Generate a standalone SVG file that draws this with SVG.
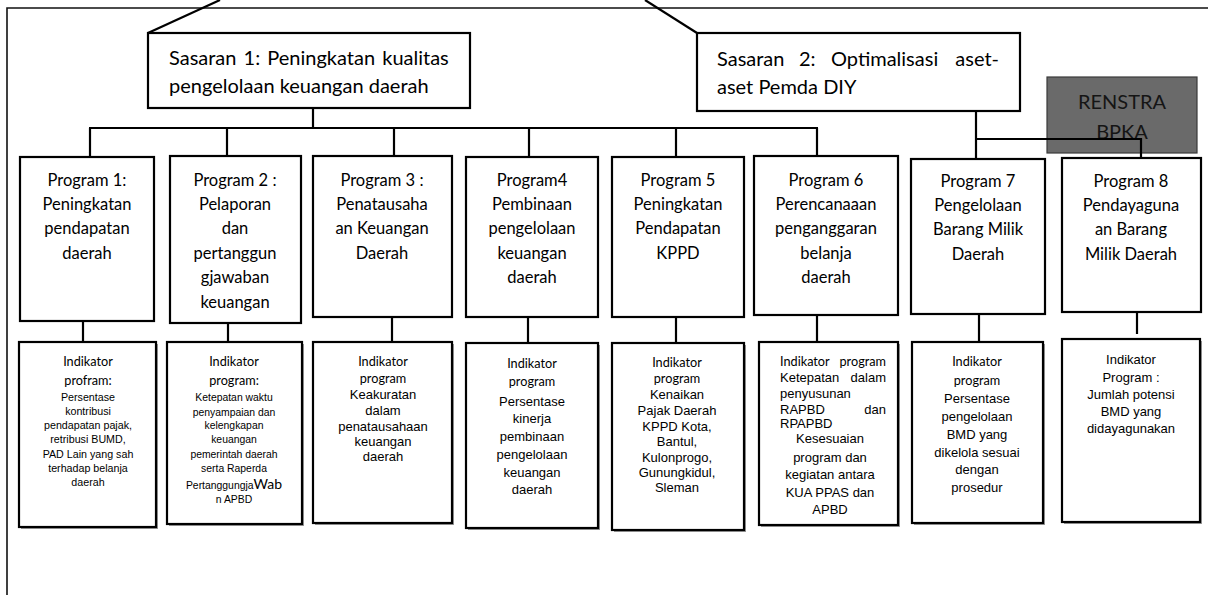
<svg xmlns="http://www.w3.org/2000/svg" width="1208" height="595" viewBox="0 0 1208 595">
<style>
.bg{fill:#fff}
.box{fill:#fff;stroke:#000;stroke-width:2.2}
.shadow{fill:#9a9a9a}
.frame{fill:none;stroke:#111;stroke-width:1.6}
.con{fill:none;stroke:#000;stroke-width:2.2}
.cal{font-family:Lato,"Liberation Sans",sans-serif;fill:#000}
.big{font-size:20px}
.prog{font-size:16.5px;text-anchor:middle}
.ind{font-size:12.7px}
.ari{font-family:"Liberation Sans",Arial,sans-serif;fill:#000}
.s11{font-size:10.7px}
.s13{font-size:13px}
.mid{text-anchor:middle}
.end{text-anchor:end}
.ren{fill:#6a6a6a;stroke:#3a3a3a;stroke-width:1.2}
</style>
<rect class="bg" x="0" y="0" width="1208" height="595"/>
<g id="frame">
<polyline class="frame" points="1208,8 7,8 7,595"/>
<line class="con" x1="220" y1="0" x2="148" y2="33"/>
<line class="con" x1="645" y1="0" x2="697" y2="33"/>
</g>

<g id="sasaran1">
<rect class="box" x="148" y="33" width="322" height="75"/>
<text class="cal big" x="169" y="65" word-spacing="2">Sasaran 1: Peningkatan kualitas</text>
<text class="cal big" x="169" y="93">pengelolaan keuangan daerah</text>
</g>

<g id="sasaran2">
<rect class="box" x="697" y="33" width="323" height="78"/>
<text class="cal big" x="717" y="66">Sasaran</text>
<text class="cal big" x="799" y="66">2:</text>
<text class="cal big" x="831" y="66">Optimalisasi</text>
<text class="cal big end" x="999" y="66">aset-</text>
<text class="cal big" x="717" y="94">aset Pemda DIY</text>
</g>

<g id="renstra">
<rect class="ren" x="1047" y="77" width="150" height="76"/>
<text class="cal big mid" x="1122" y="109" style="fill:#151515">RENSTRA</text>
<text class="cal big mid" x="1122" y="139" style="fill:#151515">BPKA</text>
</g>

<g id="program1">
<rect class="box" x="20" y="157" width="134" height="164"/>
<text class="cal prog" x="87" y="186">Program 1:</text>
<text class="cal prog" x="87" y="210">Peningkatan</text>
<text class="cal prog" x="87" y="234">pendapatan</text>
<text class="cal prog" x="87" y="259">daerah</text>
</g>
<g id="program2">
<rect class="box" x="170" y="156" width="131" height="167"/>
<text class="cal prog" x="235" y="186">Program 2 :</text>
<text class="cal prog" x="235" y="210">Pelaporan</text>
<text class="cal prog" x="235" y="234">dan</text>
<text class="cal prog" x="235" y="259">pertanggun</text>
<text class="cal prog" x="235" y="283">gjawaban</text>
<text class="cal prog" x="235" y="308">keuangan</text>
</g>
<g id="program3">
<rect class="box" x="313" y="156" width="139" height="161"/>
<text class="cal prog" x="382" y="186">Program 3 :</text>
<text class="cal prog" x="382" y="210">Penatausaha</text>
<text class="cal prog" x="382" y="234">an Keuangan</text>
<text class="cal prog" x="382" y="259">Daerah</text>
</g>
<g id="program4">
<rect class="box" x="466" y="157" width="132" height="160"/>
<text class="cal prog" x="532" y="186">Program4</text>
<text class="cal prog" x="532" y="210">Pembinaan</text>
<text class="cal prog" x="532" y="234">pengelolaan</text>
<text class="cal prog" x="532" y="259">keuangan</text>
<text class="cal prog" x="532" y="283">daerah</text>
</g>
<g id="program5">
<rect class="box" x="612" y="157" width="132" height="160"/>
<text class="cal prog" x="678" y="186">Program 5</text>
<text class="cal prog" x="678" y="210">Peningkatan</text>
<text class="cal prog" x="678" y="234">Pendapatan</text>
<text class="cal prog" x="678" y="259">KPPD</text>
</g>
<g id="program6">
<rect class="box" x="754" y="156" width="144" height="159"/>
<text class="cal prog" x="826" y="186">Program 6</text>
<text class="cal prog" x="826" y="210">Perencanaaan</text>
<text class="cal prog" x="826" y="234">penganggaran</text>
<text class="cal prog" x="826" y="259">belanja</text>
<text class="cal prog" x="826" y="283">daerah</text>
</g>
<g id="program7">
<rect class="box" x="911" y="159" width="134" height="155"/>
<text class="cal prog" x="978" y="187">Program 7</text>
<text class="cal prog" x="978" y="211">Pengelolaan</text>
<text class="cal prog" x="978" y="235">Barang Milik</text>
<text class="cal prog" x="978" y="260">Daerah</text>
</g>
<g id="program8">
<rect class="box" x="1062" y="158" width="139" height="154"/>
<text class="cal prog" x="1131" y="187">Program 8</text>
<text class="cal prog" x="1131" y="211">Pendayaguna</text>
<text class="cal prog" x="1131" y="235">an Barang</text>
<text class="cal prog" x="1131" y="260">Milik Daerah</text>
</g>

<g id="indikator1">
<rect class="shadow" x="21" y="344" width="137" height="185"/>
<rect class="box" x="19" y="342" width="137" height="185"/>
<text class="cal ind mid" x="88" y="366">Indikator</text>
<text class="cal ind mid" x="88" y="385">profram:</text>
<text class="ari s11 mid" x="88" y="401">Persentase</text>
<text class="ari s11 mid" x="88" y="415">kontribusi</text>
<text class="ari s11 mid" x="88" y="429">pendapatan pajak,</text>
<text class="ari s11 mid" x="88" y="443">retribusi BUMD,</text>
<text class="ari s11 mid" x="88" y="458">PAD Lain yang sah</text>
<text class="ari s11 mid" x="88" y="472">terhadap belanja</text>
<text class="ari s11 mid" x="88" y="486">daerah</text>
</g>
<g id="indikator2">
<rect class="shadow" x="169" y="344" width="135" height="182"/>
<rect class="box" x="167" y="342" width="135" height="182"/>
<text class="cal ind mid" x="234" y="366">Indikator</text>
<text class="cal ind mid" x="234" y="385">program:</text>
<text class="ari s11 mid" x="234" y="401" style="font-size:10.4px">Ketepatan waktu</text>
<text class="ari s11 mid" x="234" y="416" style="font-size:10.4px">penyampaian dan</text>
<text class="ari s11 mid" x="234" y="429" style="font-size:10.4px">kelengkapan</text>
<text class="ari s11 mid" x="234" y="443" style="font-size:10.4px">keuangan</text>
<text class="ari s11 mid" x="234" y="458" style="font-size:10.4px">pemerintah daerah</text>
<text class="ari s11 mid" x="234" y="472" style="font-size:10.4px">serta Raperda</text>
<text class="ari s11 mid" x="234" y="489" style="font-size:10.4px">Pertanggungja<tspan class="cal" style="font-size:14px">Wab</tspan></text>
<text class="ari s11 mid" x="234" y="503" style="font-size:10.4px">n APBD</text>
</g>
<g id="indikator3">
<rect class="shadow" x="315" y="344" width="139" height="181"/>
<rect class="box" x="313" y="342" width="139" height="181"/>
<text class="cal ind mid" x="383" y="366">Indikator</text>
<text class="cal ind mid" x="383" y="383">program</text>
<text class="ari s13 mid" x="383" y="399">Keakuratan</text>
<text class="ari s13 mid" x="383" y="415">dalam</text>
<text class="ari s13 mid" x="383" y="431">penatausahaan</text>
<text class="ari s13 mid" x="383" y="446">keuangan</text>
<text class="ari s13 mid" x="383" y="461">daerah</text>
</g>
<g id="indikator4">
<rect class="shadow" x="468" y="345" width="132" height="185"/>
<rect class="box" x="466" y="343" width="132" height="185"/>
<text class="cal ind mid" x="532" y="368">Indikator</text>
<text class="cal ind mid" x="532" y="386">program</text>
<text class="ari s13 mid" x="532" y="406">Persentase</text>
<text class="ari s13 mid" x="532" y="423">kinerja</text>
<text class="ari s13 mid" x="532" y="441">pembinaan</text>
<text class="ari s13 mid" x="532" y="459">pengelolaan</text>
<text class="ari s13 mid" x="532" y="477">keuangan</text>
<text class="ari s13 mid" x="532" y="494">daerah</text>
</g>
<g id="indikator5">
<rect class="shadow" x="614" y="345" width="132" height="187"/>
<rect class="box" x="612" y="343" width="132" height="187"/>
<text class="cal ind mid" x="677" y="367">Indikator</text>
<text class="cal ind mid" x="677" y="383">program</text>
<text class="ari s13 mid" x="677" y="399">Kenaikan</text>
<text class="ari s13 mid" x="677" y="415">Pajak Daerah</text>
<text class="ari s13 mid" x="677" y="431">KPPD Kota,</text>
<text class="ari s13 mid" x="677" y="446">Bantul,</text>
<text class="ari s13 mid" x="677" y="462">Kulonprogo,</text>
<text class="ari s13 mid" x="677" y="477">Gunungkidul,</text>
<text class="ari s13 mid" x="677" y="492">Sleman</text>
</g>
<g id="indikator6">
<rect class="shadow" x="761" y="344" width="139" height="183"/>
<rect class="box" x="759" y="342" width="139" height="183"/>
<text class="cal ind" x="780" y="366">Indikator</text>
<text class="cal ind end" x="886" y="366">program</text>
<text class="ari s13" x="780" y="382">Ketepatan</text>
<text class="ari s13 end" x="886" y="382">dalam</text>
<text class="ari s13" x="780" y="398">penyusunan</text>
<text class="ari s13" x="780" y="414">RAPBD</text>
<text class="ari s13 end" x="886" y="414">dan</text>
<text class="ari s13" x="780" y="428">RPAPBD</text>
<text class="ari s13 mid" x="830" y="443">Kesesuaian</text>
<text class="ari s13 mid" x="830" y="462">program dan</text>
<text class="ari s13 mid" x="830" y="479">kegiatan antara</text>
<text class="ari s13 mid" x="830" y="497">KUA PPAS dan</text>
<text class="ari s13 mid" x="830" y="514">APBD</text>
</g>
<g id="indikator7">
<rect class="shadow" x="914" y="344" width="131" height="181"/>
<rect class="box" x="912" y="342" width="131" height="181"/>
<text class="cal ind mid" x="977" y="366">Indikator</text>
<text class="cal ind mid" x="977" y="385">program</text>
<text class="ari s13 mid" x="977" y="403">Persentase</text>
<text class="ari s13 mid" x="977" y="421">pengelolaan</text>
<text class="ari s13 mid" x="977" y="439">BMD yang</text>
<text class="ari s13 mid" x="977" y="457">dikelola sesuai</text>
<text class="ari s13 mid" x="977" y="474">dengan</text>
<text class="ari s13 mid" x="977" y="492">prosedur</text>
</g>
<g id="indikator8">
<rect class="shadow" x="1064" y="341" width="138" height="183"/>
<rect class="box" x="1062" y="339" width="138" height="183"/>
<text class="ari s13 mid" x="1131" y="364">Indikator</text>
<text class="ari s13 mid" x="1131" y="382">Program :</text>
<text class="ari s13 mid" x="1131" y="399">Jumlah potensi</text>
<text class="ari s13 mid" x="1131" y="416">BMD yang</text>
<text class="ari s13 mid" x="1131" y="433">didayagunakan</text>
</g>

<g id="connectors">
<line class="con" x1="313" y1="108" x2="313" y2="128"/>
<line class="con" x1="89" y1="128" x2="818" y2="128"/>
<line class="con" x1="90" y1="128" x2="90" y2="157"/>
<line class="con" x1="227" y1="128" x2="227" y2="156"/>
<line class="con" x1="394" y1="128" x2="394" y2="156"/>
<line class="con" x1="529" y1="128" x2="529" y2="157"/>
<line class="con" x1="676" y1="128" x2="676" y2="157"/>
<line class="con" x1="817" y1="128" x2="817" y2="156"/>
<line class="con" x1="976" y1="111" x2="976" y2="159"/>
<polyline class="con" points="975,139 1141,139 1141,158"/>
<line class="con" x1="83" y1="321" x2="83" y2="342"/>
<line class="con" x1="228" y1="323" x2="228" y2="342"/>
<line class="con" x1="392" y1="317" x2="392" y2="342"/>
<line class="con" x1="528" y1="317" x2="528" y2="343"/>
<line class="con" x1="676" y1="317" x2="676" y2="343"/>
<line class="con" x1="817" y1="315" x2="817" y2="342"/>
<line class="con" x1="979" y1="314" x2="979" y2="342"/>
<line class="con" x1="1137" y1="312" x2="1137" y2="334"/>
</g>
</svg>
